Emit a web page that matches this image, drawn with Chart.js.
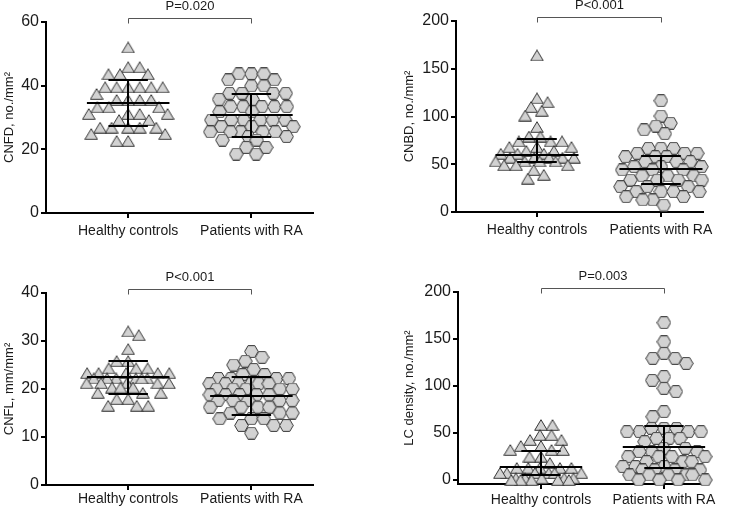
<!DOCTYPE html>
<html>
<head>
<meta charset="utf-8">
<script src="https://cdn.jsdelivr.net/npm/chart.js@4"></script>
<style>
  html, body { margin: 0; padding: 0; background: #fff; }
  #wrap { position: relative; width: 749px; height: 509px; }
  #wrap canvas { position: absolute; left: 0; top: 0; }
</style>
</head>
<body>
<div id="wrap">
  <canvas id="p1" width="749" height="509"></canvas>
  <canvas id="p2" width="749" height="509"></canvas>
  <canvas id="p3" width="749" height="509"></canvas>
  <canvas id="p4" width="749" height="509"></canvas>
</div>
<script>
const groups = ['Healthy controls', 'Patients with RA'];

// CNFD, no./mm2
const cnfdHealthy = [52, 45.8, 45.8, 43.6, 43.6, 43.6, 39.5, 39.5, 39.5, 39.5, 39.5, 39.5, 37.4,
  35.5, 35.5, 35.5, 35.5, 33.2, 33.2, 33.2, 31.1, 31.1, 31.1, 31.1, 29.2, 29.2,
  26.8, 26.8, 26.8, 26.8, 26.8, 24.8, 24.8, 22.6, 22.6];
const cnfdRA = [43.7, 43.7, 43.7, 41.8, 41.8, 39.9, 39.9, 37.6, 37.6, 37.6, 37.6, 35.7, 35.7,
  33.4, 33.4, 33.4, 33.4, 33.4, 31.8, 31.8, 29.2, 29.2, 29.2, 29.2, 29.2, 29.2,
  27.1, 27.1, 27.1, 25.5, 25.5, 25.5, 25.5, 25.5, 24, 24, 22.9, 22.9, 20.6, 20.6, 18.5, 18.5];

// CNBD, no./mm2
const cnbdHealthy = [164, 119, 115, 110, 106, 101, 89, 79, 79, 74, 74, 74, 68, 68, 68, 64, 64,
  61, 61, 61, 57, 57, 57, 57, 57, 53, 53, 53, 53, 49, 49, 49, 44, 39, 35];
const cnbdRA = [116.5, 100.5, 93, 90, 86, 82, 66.7, 66.7, 66.7, 61.5, 61.5, 61.5, 57.9, 57.9, 57.9,
  52.7, 52.7, 52.7, 47.4, 47.4, 47.4, 44, 44, 44, 37.7, 37.7, 37.7, 33.5, 33.5, 33.5, 33.5,
  26.5, 26.5, 26.5, 21.3, 21.3, 21.3, 21.3, 16, 16, 12.6, 12.6, 7.3];

// CNFL, mm/mm2
const cnflHealthy = [32, 31.2, 28.3, 25.8, 25.8, 24.3, 24.3, 24.3, 23.3, 23.3, 23.3, 23.3, 23.3,
  22.2, 22.2, 22.2, 22.2, 22.2, 22.2, 21.2, 21.2, 21.2, 21.2, 21.2, 20.3, 20.3, 20.3,
  19.2, 19.2, 19.2, 17.9, 17.9, 16.5, 16.5, 16.5];
const cnflRA = [27.8, 26.6, 25.8, 25, 24.1, 23, 23, 22.2, 22.2, 22.2, 22.2,
  21.1, 21.1, 21.1, 21.1, 21.1, 21.1, 20, 20, 20, 20, 20, 18.8, 18.8, 18.8, 18.8, 18.8,
  17.6, 17.6, 17.6, 17.6, 17.6, 16.2, 16.2, 16.2, 16.2, 15, 15, 15, 13.8, 13.8, 13.8,
  12.4, 12.4, 12.4, 10.8];

// LC density, no./mm2
const lcHealthy = [58.5, 58.5, 47.9, 47.9, 42.6, 42.6, 36.2, 36.2, 31.9, 31.9, 31.9, 24.8, 24.8, 18,
  12.8, 12.8, 12.8, 12.8, 12.8, 7.4, 7.4, 7.4, 7.4, 7.4, 7.4, 1.8, 1.8, 1.8, 1.8, 1.8, 0, 0, 0, 0, 0];
const lcRA = [167.4, 147, 134.7, 129.4, 129.4, 124, 110, 106, 97.5, 94, 72.7, 67.3, 55, 55, 55,
  51.4, 51.4, 51.4, 51.4, 44.3, 44.3, 44.3, 40.7, 33.7, 33.7, 30.1, 30.1, 30.1,
  24.8, 24.8, 24.8, 24.8, 19.5, 19.5, 19.5, 14.2, 14.2, 14.2, 10.6, 10.6, 10.6, 10.6,
  5.3, 5.3, 5.3, 5.3, 5.3, 0, 0, 0, 0];

// centre line, lower and upper whisker per group
const cnfdBars = [[34.5, 27.2, 41.8], [30.8, 24.0, 37.3]];
const cnbdBars = [[60, 52.5, 76.8], [45, 29, 58.5]];
const cnflBars = [[22.4, 18.9, 25.9], [18.6, 14.6, 22.6]];
const lcBars = [[13.8, 5.3, 31], [35.5, 12.5, 57.4]];

const yTitles = ['CNFD, no./mm²', 'CNBD, no./mm²', 'CNFL, mm/mm²', 'LC density, no./mm²'];
const pLabels = ['P=0.020', 'P<0.001', 'P<0.001', 'P=0.003'];
const yTicks = [[0, 20, 40, 60], [0, 50, 100, 150, 200], [0, 10, 20, 30, 40], [0, 50, 100, 150, 200]];

const FONT = '"Liberation Sans", Arial, sans-serif';
const TEXT = '#1a1a1a';

// layout of each panel on the page
const panels = [
  { id: 'p1', data: [cnfdHealthy, cnfdRA], bars: cnfdBars, min: 0, max: 60,
    pad: { left: 0, top: 22, right: 436, bottom: 256 }, yW: 46, xH: 40, xMin: 0.333, xMax: 2.5, labelPad: 5 },
  { id: 'p2', data: [cnbdHealthy, cnbdRA], bars: cnbdBars, min: 0, max: 200,
    pad: { left: 400, top: 21, right: 46, bottom: 257 }, yW: 56, xH: 40, xMin: 0.347, xMax: 2.339, labelPad: 5 },
  { id: 'p3', data: [cnflHealthy, cnflRA], bars: cnflBars, min: 0, max: 40,
    pad: { left: 0, top: 293, right: 436, bottom: 0 }, yW: 46, xH: 24, xMin: 0.333, xMax: 2.5, labelPad: 1 },
  { id: 'p4', data: [lcHealthy, lcRA], bars: lcBars, min: -4.3, max: 200,
    pad: { left: 400, top: 292, right: 42, bottom: 0 }, yW: 58, xH: 25, xMin: 0.325, xMax: 2.35, labelPad: 3 }
];

function triangleImg() {
  const c = document.createElement('canvas');
  c.width = 14; c.height = 12;
  const g = c.getContext('2d');
  g.beginPath();
  g.moveTo(7, 0.7); g.lineTo(13.3, 11.3); g.lineTo(0.7, 11.3); g.closePath();
  g.fillStyle = '#d2d2d2'; g.fill();
  g.strokeStyle = '#363636'; g.lineWidth = 1; g.stroke();
  return c;
}

function hexagonImg() {
  const c = document.createElement('canvas');
  c.width = 15; c.height = 13;
  const g = c.getContext('2d');
  g.beginPath();
  for (let k = 0; k < 6; k++) {
    const a = Math.PI / 3 * k;
    g.lineTo(7.5 + 6.8 * Math.cos(a), 6.5 + 6.8 * Math.sin(a));
  }
  g.closePath();
  g.fillStyle = '#d2d2d2'; g.fill();
  g.strokeStyle = '#363636'; g.lineWidth = 1; g.stroke();
  return c;
}

const markers = [triangleImg(), hexagonImg()];

// beeswarm-like horizontal spread, in pixels, worked out from the values
function swarmOffsets(vals, pxY, w, h, maxHalf) {
  const order = vals.map((v, i) => i).sort((a, b) => vals[b] - vals[a]);
  const placed = [];
  const off = [];
  let flip = 1;
  order.forEach(i => {
    const py = vals[i] * pxY;
    let best = null;
    for (let s = 1; s > 0.2 && best === null; s -= 0.1) {
      const ww = w * s;
      const dist = cx => placed.reduce((m, p) =>
        Math.min(m, ((p.x - cx) / ww) ** 2 + ((p.y - py) / h) ** 2), Infinity);
      const cands = [0];
      placed.forEach(p => {
        const dy = Math.abs(p.y - py);
        if (dy < h) {
          const dx = ww * Math.sqrt(1 - (dy / h) ** 2) + 0.01;
          cands.push(p.x + dx, p.x - dx);
        }
      });
      const ok = cands.filter(c => Math.abs(c) <= maxHalf && dist(c) >= 0.999);
      if (ok.length) {
        ok.sort((a, b) => Math.abs(Math.abs(a) - Math.abs(b)) < 0.05 ? flip * (b - a) : Math.abs(a) - Math.abs(b));
        best = ok[0];
      }
    }
    if (best === null) best = 0;
    if (Math.abs(best) > 0.05) flip = -flip;
    placed.push({ x: best, y: py });
    off[i] = best;
  });
  return off;
}

function annotations(pn, idx) {
  return {
    id: 'annotations' + idx,
    afterDatasetsDraw(chart) {
      const { ctx, scales: { x, y }, chartArea } = chart;
      ctx.save();
      ctx.strokeStyle = '#000';
      ctx.lineWidth = 2;
      const hline = (a, b, v) => {
        const py = Math.round(y.getPixelForValue(v));
        ctx.beginPath();
        ctx.moveTo(x.getPixelForValue(a), py);
        ctx.lineTo(x.getPixelForValue(b), py);
        ctx.stroke();
      };
      pn.bars.forEach(([mid, lo, hi], gi) => {
        const c = gi + 1;
        hline(c - 0.335, c + 0.335, mid);
        hline(c - 0.16, c + 0.16, lo);
        hline(c - 0.16, c + 0.16, hi);
        const px = Math.round(x.getPixelForValue(c));
        ctx.beginPath();
        ctx.moveTo(px, y.getPixelForValue(lo));
        ctx.lineTo(px, y.getPixelForValue(hi));
        ctx.stroke();
      });
      // significance bracket
      const x1 = Math.round(x.getPixelForValue(1)) + 0.5;
      const x2 = Math.round(x.getPixelForValue(2)) + 0.5;
      const by = Math.round(chartArea.top - 4) + 0.5;
      ctx.strokeStyle = '#555';
      ctx.lineWidth = 1;
      ctx.beginPath();
      ctx.moveTo(x1, by + 5); ctx.lineTo(x1, by); ctx.lineTo(x2, by); ctx.lineTo(x2, by + 5);
      ctx.stroke();
      ctx.fillStyle = TEXT;
      ctx.font = '13px ' + FONT;
      ctx.textAlign = 'center';
      ctx.textBaseline = 'middle';
      ctx.fillText(pLabels[idx], (x1 + x2) / 2, chartArea.top - 16);
      ctx.restore();
    }
  };
}

panels.forEach((pn, idx) => {
  const axisLine = { display: true, color: '#000', width: 2 };
  const tickMarks = { display: true, drawOnChartArea: false, drawTicks: true, tickLength: 5, color: '#000', lineWidth: 2 };
  const chart = new Chart(document.getElementById(pn.id), {
    type: 'scatter',
    data: {
      datasets: pn.data.map((vals, gi) => ({
        data: vals.map(v => ({ x: gi + 1, y: v })),
        pointStyle: markers[gi],
        pointRadius: 6,
        pointHoverRadius: 6,
        clip: false
      }))
    },
    options: {
      responsive: false,
      animation: false,
      events: [],
      layout: { padding: pn.pad },
      plugins: { legend: { display: false }, tooltip: { enabled: false } },
      scales: {
        x: {
          type: 'linear',
          min: pn.xMin,
          max: pn.xMax,
          afterBuildTicks: s => { s.ticks = [{ value: 1 }, { value: 2 }]; },
          afterFit: s => { s.height = pn.xH; },
          ticks: {
            callback: v => groups[v - 1],
            font: { family: FONT, size: 14 },
            color: TEXT,
            padding: pn.labelPad,
            maxRotation: 0,
            autoSkip: false
          },
          grid: tickMarks,
          border: axisLine
        },
        y: {
          min: pn.min,
          max: pn.max,
          afterBuildTicks: s => { s.ticks = yTicks[idx].map(v => ({ value: v })); },
          afterFit: s => { s.width = pn.yW; },
          ticks: { font: { family: FONT, size: 16 }, color: TEXT, padding: 2 },
          grid: tickMarks,
          border: axisLine,
          title: {
            display: true,
            text: yTitles[idx],
            font: { family: FONT, size: 13 },
            color: TEXT,
            padding: { top: 2, bottom: 0 }
          }
        }
      }
    },
    plugins: [annotations(pn, idx)]
  });

  const ys = chart.scales.y, xs = chart.scales.x;
  const pxY = Math.abs(ys.getPixelForValue(1) - ys.getPixelForValue(0));
  const pxX = Math.abs(xs.getPixelForValue(2) - xs.getPixelForValue(1));
  chart.data.datasets.forEach((ds, gi) => {
    const vals = pn.data[gi];
    const off = gi ? swarmOffsets(vals, pxY, 12.5, 11, 42) : swarmOffsets(vals, pxY, 11.5, 10, 42);
    ds.data = vals.map((v, i) => ({ x: gi + 1 + off[i] / pxX, y: v }));
  });
  chart.update('none');
});
</script>
</body>
</html>
